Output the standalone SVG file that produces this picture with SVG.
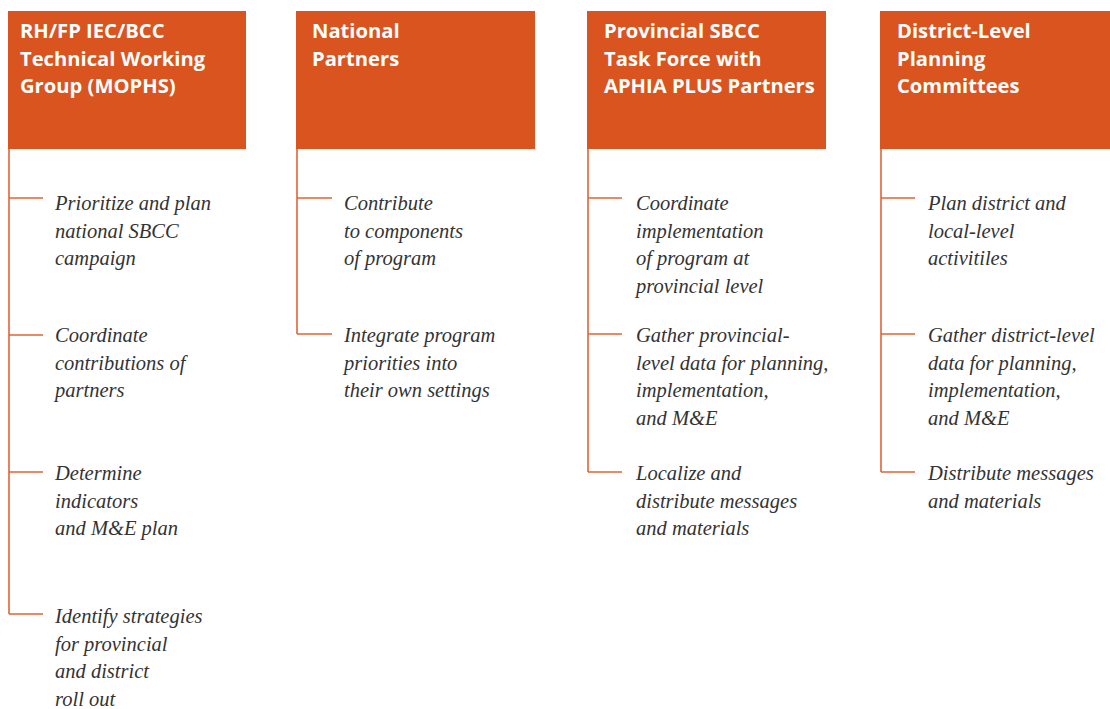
<svg xmlns="http://www.w3.org/2000/svg" width="1110" height="709" viewBox="0 0 1110 709">
<style>
.box{fill:#D9541E}
.hd{font-family:"Open Sans","Liberation Sans",sans-serif;font-weight:bold;font-size:20.2px;fill:#fff}
.it{font-family:"Liberation Serif",serif;font-style:italic;font-size:20.5px;fill:#333}
.ln{stroke:#DE6535;stroke-width:1.6;fill:none}
</style>
<rect width="1110" height="709" fill="#fff"/>
<g id="connectors">
<path class="ln" d="M9,149V614M9,198H43M9,335H43M9,472H43M9,614H43"/>
<path class="ln" d="M297,149V334M297,198H332M297,334H332"/>
<path class="ln" d="M588,149V472M588,198H622M588,334H622M588,472H622"/>
<path class="ln" d="M881,149V472M881,198H915M881,334H915M881,472H915"/>
</g>
<g id="col1">
<rect class="box" x="8" y="11" width="238" height="138"/>
<text class="hd" x="20" y="38">RH/FP IEC/BCC</text>
<text class="hd" x="20" y="66">Technical Working</text>
<text class="hd" x="20" y="93">Group (MOPHS)</text>
</g>
<g id="col1-item1"><text class="it" x="55" y="210">Prioritize and plan<tspan x="55" dy="27.6">national SBCC</tspan><tspan x="55" dy="27.6">campaign</tspan></text></g>
<g id="col1-item2"><text class="it" x="55" y="342">Coordinate<tspan x="55" dy="27.6">contributions of</tspan><tspan x="55" dy="27.6">partners</tspan></text></g>
<g id="col1-item3"><text class="it" x="55" y="480">Determine<tspan x="55" dy="27.6">indicators</tspan><tspan x="55" dy="27.6">and M&amp;E plan</tspan></text></g>
<g id="col1-item4"><text class="it" x="55" y="623">Identify strategies<tspan x="55" dy="27.6">for provincial</tspan><tspan x="55" dy="27.6">and district</tspan><tspan x="55" dy="27.6">roll out</tspan></text></g>
<g id="col2">
<rect class="box" x="296" y="11" width="239" height="138"/>
<text class="hd" x="312" y="38">National</text>
<text class="hd" x="312" y="66">Partners</text>
</g>
<g id="col2-item1"><text class="it" x="344" y="210">Contribute<tspan x="344" dy="27.6">to components</tspan><tspan x="344" dy="27.6">of program</tspan></text></g>
<g id="col2-item2"><text class="it" x="344" y="342">Integrate program<tspan x="344" dy="27.6">priorities into</tspan><tspan x="344" dy="27.6">their own settings</tspan></text></g>
<g id="col3">
<rect class="box" x="587" y="11" width="239" height="138"/>
<text class="hd" x="604" y="38">Provincial SBCC</text>
<text class="hd" x="604" y="66">Task Force with</text>
<text class="hd" x="604" y="93">APHIA PLUS Partners</text>
</g>
<g id="col3-item1"><text class="it" x="636" y="210">Coordinate<tspan x="636" dy="27.6">implementation</tspan><tspan x="636" dy="27.6">of program at</tspan><tspan x="636" dy="27.6">provincial level</tspan></text></g>
<g id="col3-item2"><text class="it" x="636" y="342">Gather provincial-<tspan x="636" dy="27.6">level data for planning,</tspan><tspan x="636" dy="27.6">implementation,</tspan><tspan x="636" dy="27.6">and M&amp;E</tspan></text></g>
<g id="col3-item3"><text class="it" x="636" y="480">Localize and<tspan x="636" dy="27.6">distribute messages</tspan><tspan x="636" dy="27.6">and materials</tspan></text></g>
<g id="col4">
<rect class="box" x="880" y="11" width="230" height="138"/>
<text class="hd" x="897" y="38">District-Level</text>
<text class="hd" x="897" y="66">Planning</text>
<text class="hd" x="897" y="93">Committees</text>
</g>
<g id="col4-item1"><text class="it" x="928" y="210">Plan district and<tspan x="928" dy="27.6">local-level</tspan><tspan x="928" dy="27.6">activitiles</tspan></text></g>
<g id="col4-item2"><text class="it" x="928" y="342">Gather district-level<tspan x="928" dy="27.6">data for planning,</tspan><tspan x="928" dy="27.6">implementation,</tspan><tspan x="928" dy="27.6">and M&amp;E</tspan></text></g>
<g id="col4-item3"><text class="it" x="928" y="480">Distribute messages<tspan x="928" dy="27.6">and materials</tspan></text></g>
</svg>
